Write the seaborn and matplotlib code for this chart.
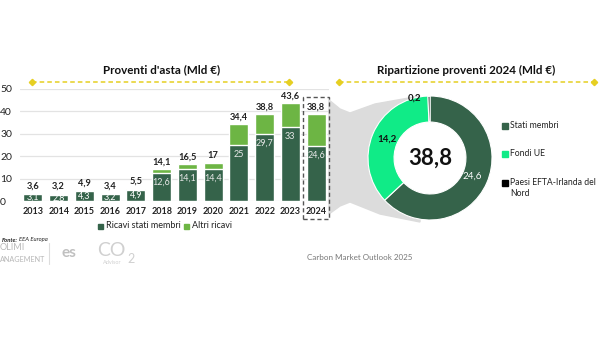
import matplotlib
matplotlib.use("Agg")
import matplotlib.pyplot as plt
import seaborn as sns
import pandas as pd
from matplotlib.patches import Rectangle, Polygon

# ---- data ----
years = ["2013", "2014", "2015", "2016", "2017", "2018", "2019", "2020", "2021", "2022", "2023", "2024"]
totals = [3.6, 3.2, 4.9, 3.4, 5.5, 14.1, 16.5, 17, 34.4, 38.8, 43.6, 38.8]
member = [3.1, 2.8, 4.3, 3.2, 4.9, 12.6, 14.1, 14.4, 25, 29.7, 33, 24.6]
bar_series = ["Ricavi stati membri", "Altri ricavi"]

pie_labels = ["Stati membri", "Fondi UE", "Paesi EFTA-Irlanda del\nNord"]
pie_values = [24.6, 14.2, 0.2]
pie_total = "38,8"

DARK = "#35634a"
LIGHT = "#6db544"
BRIGHT = "#10eb87"
YELLOW = "#e6cf22"

sns.set_theme(style="white")
plt.rcParams["font.family"] = ["Lato", "DejaVu Sans"]

W, H = 600, 337
fig = plt.figure(figsize=(6, 3.37), dpi=100)


def fx(x):
    return x / W


def fy(y):
    return 1 - y / H


def fmt(v):
    s = f"{v:g}"
    return s.replace(".", ",")


# funnel (behind everything)
funnel = Polygon([(fx(329), fy(100)), (fx(340), fy(109)), (fx(350), fy(113)), (fx(375), fy(104)),
                  (fx(420), fy(96)), (fx(420), fy(222)), (fx(380), fy(214)), (fx(350), fy(202)),
                  (fx(340), fy(206)), (fx(329), fy(214))],
                 closed=True, transform=fig.transFigure, color="#dcdcdc", zorder=-5)
fig.add_artist(funnel)

# ---- bar chart ----
ax = fig.add_axes([fx(20), fy(201), fx(329) - fx(20), fy(89) - fy(201)])
ax.patch.set_alpha(0)
df = pd.DataFrame({"year": years, "total": totals, "member": member})
sns.barplot(data=df, x="year", y="total", color=LIGHT, saturation=1, width=0.74, ax=ax, zorder=3)
sns.barplot(data=df, x="year", y="member", color=DARK, saturation=1, width=0.74, ax=ax, zorder=4)
ax.set_ylim(0, 50)
ax.set_xlim(-0.5, 11.5)
ax.set_yticks([0, 10, 20, 30, 40, 50])
ax.yaxis.grid(True, color="#e3e3e3", lw=0.9, zorder=0)
ax.set_axisbelow(True)
for s in ax.spines.values():
    s.set_visible(False)
ax.set_xlabel("")
ax.set_ylabel("")
ax.tick_params(axis="y", labelsize=7.5, pad=2, length=0, colors="#222222")
ax.tick_params(axis="x", labelsize=6.5, pad=4, length=0)
for lbl in ax.get_xticklabels():
    lbl.set_fontweight("bold")
    lbl.set_color("#222222")
for lbl in ax.get_yticklabels():
    lbl.set_horizontalalignment("left")
    lbl.set_x(-0.055)

for i, (t, m) in enumerate(zip(totals, member)):
    ax.annotate(fmt(t), (i, t), xytext=(0, 2), textcoords="offset points",
                ha="center", va="bottom", fontsize=6.7, fontweight="bold", color="#222222", zorder=6)
    if m < 8:
        ax.text(i, m / 2, fmt(m), ha="center", va="center", fontsize=6.5, color="white", zorder=6)
    else:
        ax.annotate(fmt(m), (i, m), xytext=(0, -6.5), textcoords="offset points",
                    ha="center", va="center", fontsize=6.5, color="#e8e8e8", zorder=6)

# legend under bars
fig.patches.append(Rectangle((fx(98), fy(229)), 5 / W, 5 / H, transform=fig.transFigure, color=DARK))
fig.text(fx(106), fy(226), bar_series[0], fontsize=6.5, va="center", color="#222222")
fig.patches.append(Rectangle((fx(184), fy(229)), 5 / W, 5 / H, transform=fig.transFigure, color=LIGHT))
fig.text(fx(192), fy(226), bar_series[1], fontsize=6.5, va="center", color="#222222")

# dashed box around 2024
fig.patches.append(Rectangle((fx(303), fy(219)), 26 / W, 122 / H, transform=fig.transFigure,
                             fill=False, ls=(0, (3, 2)), lw=1.0, ec="#555555", zorder=5))

# ---- donut ----
axp = fig.add_axes([fx(368), fy(220), 124 / W, 124 / H])
axp.patch.set_alpha(0)
wedges, _ = axp.pie(pie_values, colors=[DARK, BRIGHT, "#000000"], startangle=90, counterclock=False,
                    radius=1, wedgeprops=dict(width=0.42, edgecolor="white", linewidth=0.8))
axp.add_patch(plt.Circle((0, 0), 0.58, color="white", zorder=0))
axp.set_aspect("equal")
axp.set_xlim(-1, 1)
axp.set_ylim(-1, 1)
axp.axis("off")
axp.text(0, 0, pie_total, ha="center", va="center", fontsize=16, fontweight="bold", color="#111111")
axp.text(0.68, -0.3, fmt(pie_values[0]), ha="center", va="center", fontsize=7, color="white")
axp.text(-0.7, 0.31, fmt(pie_values[1]), ha="center", va="center", fontsize=7, color="#111111", fontweight="bold")
axp.text(-0.25, 0.96, fmt(pie_values[2]), ha="center", va="center", fontsize=7, color="#111111", fontweight="bold")

# donut legend
leg_y = [126, 154, 183]
for c, lab, y in zip([DARK, BRIGHT, "#000000"], pie_labels, leg_y):
    fig.patches.append(Rectangle((fx(502), fy(y + 3)), 6 / W, 6 / H, transform=fig.transFigure, color=c))
    if "\n" in lab:
        fig.text(fx(510), fy(y - 5), lab, fontsize=6.2, va="top", color="#222222", linespacing=1.3)
    else:
        fig.text(fx(510), fy(y), lab, fontsize=6.2, va="center", color="#222222")

# ---- titles and dashed yellow rules ----
fig.text(fx(162), fy(70), "Proventi d'asta (Mld €)", ha="center", va="center", fontsize=8.4, fontweight="bold",
         color="#111111")
fig.text(fx(466), fy(70), "Ripartizione proventi 2024 (Mld €)", ha="center", va="center", fontsize=8.4,
         fontweight="bold", color="#111111")
for x0, x1 in [(32, 289), (339, 594)]:
    fig.add_artist(plt.Line2D([fx(x0), fx(x1)], [fy(82), fy(82)], transform=fig.transFigure,
                              color=YELLOW, lw=1.1, ls=(0, (3, 2))))
    fig.add_artist(plt.Line2D([fx(x0), fx(x1)], [fy(82), fy(82)], transform=fig.transFigure,
                              color=YELLOW, lw=0, marker="D", markersize=3.2))

# ---- footer ----
fig.text(fx(2), fy(240), "Fonte:", fontsize=4.2, fontweight="bold", fontstyle="italic", va="center", color="#222222")
fig.text(fx(19), fy(240), "EEA Europa", fontsize=4.2, fontstyle="italic", va="center", color="#222222")
fig.text(fx(0), fy(248), "OLIMI", fontsize=6.5, va="center", color="#b8b8b8")
fig.text(fx(0), fy(259), "ANAGEMENT", fontsize=5.2, va="center", color="#b8b8b8")
fig.add_artist(plt.Line2D([fx(49), fx(49)], [fy(243), fy(264)], transform=fig.transFigure, color="#dddddd", lw=0.8))
fig.text(fx(62), fy(253), "es", fontsize=11, va="center", color="#c0c0c0", fontweight="bold")
fig.text(fx(97), fy(251), "CO", fontsize=14, va="center", color="#d0d0d0")
fig.text(fx(127), fy(259), "2", fontsize=9, va="center", color="#d0d0d0")
fig.text(fx(103), fy(262), "Advisor", fontsize=4, va="center", color="#d0d0d0")
fig.text(fx(360), fy(257), "Carbon Market Outlook 2025", fontsize=5.8, ha="center", va="center", color="#777777")

fig.savefig("out.png", dpi=100)
